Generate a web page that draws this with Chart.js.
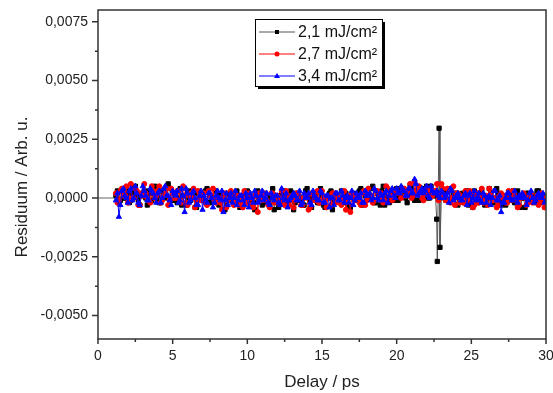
<!DOCTYPE html>
<html>
<head>
<meta charset="utf-8">
<script src="https://cdn.jsdelivr.net/npm/chart.js@4.4.1/dist/chart.umd.min.js"></script>
<style>
  body { margin: 0; background: #fff; }
</style>
</head>
<body>
<canvas id="residuals" width="553" height="393"></canvas>
<script>
// Residuen der Fits, Werte in Einheiten von 1e-4 Arb. u.
const delay = [
  1.2, 1.4, 1.6, 1.8, 2, 2.2, 2.4, 2.6, 2.8, 3,
  3.2, 3.4, 3.6, 3.8, 4, 4.2, 4.4, 4.6, 4.8, 5,
  5.2, 5.4, 5.6, 5.8, 6, 6.2, 6.4, 6.6, 6.8, 7,
  7.2, 7.4, 7.6, 7.8, 8, 8.2, 8.4, 8.6, 8.8, 9,
  9.2, 9.4, 9.6, 9.8, 10, 10.2, 10.4, 10.6, 10.8, 11,
  11.2, 11.4, 11.6, 11.8, 12, 12.2, 12.4, 12.6, 12.8, 13,
  13.2, 13.4, 13.6, 13.8, 14, 14.2, 14.4, 14.6, 14.8, 15,
  15.2, 15.4, 15.6, 15.8, 16, 16.2, 16.4, 16.6, 16.8, 17,
  17.2, 17.4, 17.6, 17.8, 18, 18.2, 18.4, 18.6, 18.8, 19,
  19.2, 19.4, 19.6, 19.8, 20, 20.2, 20.4, 20.6, 20.8, 21,
  21.2, 21.4, 21.6, 21.8, 22, 22.2, 22.4, 22.6, 22.8, 23,
  23.2, 23.4, 23.6, 23.8, 24, 24.2, 24.4, 24.6, 24.8, 25,
  25.2, 25.4, 25.6, 25.8, 26, 26.2, 26.4, 26.6, 26.8, 27,
  27.2, 27.4, 27.6, 27.8, 28, 28.2, 28.4, 28.6, 28.8, 29,
  29.2, 29.4, 29.6, 29.8, 30
];
// Zwischenpunkte
const delayMid = [
  1.3, 1.5, 1.7, 1.9, 2.1, 2.3, 2.5, 2.7, 2.9, 3.1,
  3.3, 3.5, 3.7, 3.9, 4.1, 4.3, 4.5, 4.7, 4.9, 5.1,
  5.3, 5.5, 5.7, 5.9, 6.1, 6.3, 6.5, 6.7, 6.9, 7.1,
  7.3, 7.5, 7.7, 7.9, 8.1, 8.3, 8.5, 8.7, 8.9, 9.1,
  9.3, 9.5, 9.7, 9.9, 10.1, 10.3, 10.5, 10.7, 10.9, 11.1,
  11.3, 11.5, 11.7, 11.9, 12.1, 12.3, 12.5, 12.7, 12.9, 13.1,
  13.3, 13.5, 13.7, 13.9, 14.1, 14.3, 14.5, 14.7, 14.9, 15.1,
  15.3, 15.5, 15.7, 15.9, 16.1, 16.3, 16.5, 16.7, 16.9, 17.1,
  17.3, 17.5, 17.7, 17.9, 18.1, 18.3, 18.5, 18.7, 18.9, 19.1,
  19.3, 19.5, 19.7, 19.9, 20.1, 20.3, 20.5, 20.7, 20.9, 21.1,
  21.3, 21.5, 21.7, 21.9, 22.1, 22.3, 22.5, 22.7, 22.9, 23.1,
  23.3, 23.5, 23.7, 23.9, 24.1, 24.3, 24.5, 24.7, 24.9, 25.1,
  25.3, 25.5, 25.7, 25.9, 26.1, 26.3, 26.5, 26.7, 26.9, 27.1,
  27.3, 27.5, 27.7, 27.9, 28.1, 28.3, 28.5, 28.7, 28.9, 29.1,
  29.3, 29.5, 29.7, 29.9
];

// 2,1 mJ/cm²
const res21 = [
  1, -2, 3, 0, 2, -1, 4, 1, -3, 2,
  0, 3, -1, 5, 1, -2, 2, 0, 4, -1,
  2, 0, -3, 1, 3, -1, 2, -4, 0, 1,
  3, -2, 1, 0, 2, -1, 1, -3, 0, 2,
  -2, 1, -4, 0, 3, -1, -2, 1, 0, -3,
  2, -1, 0, -5, 1, -2, 3, 0, -1, 2,
  -2, 1, 0, -3, 4, -1, 0, 2, -2, 1,
  -4, 0, 3, -1, 1, -2, 0, 2, -3, 1,
  0, -1, 4, -2, 1, 0, 5, -2, 1, 3,
  -3, 0, 2, -1, 4, 1, 3, 0, 2, 4,
  -1, 2, 3, 1, 5, 0, 2, 1, null, 2,
  0, 3, -1, 2, 1, -1, 2, 0, -3, 1,
  3, -2, 0, 1, -1, 4, -2, 0, 2, -3,
  1, 0, -1, 3, -2, 1, 0, -4, 2, -1,
  0, 3, -2, 1, -1
];
const res21Mid = [
  3, -1, 0, 4, -2, 2, 5, -1, 1, 3,
  -3, 2, 4, 0, -2, 3, 1, 6, -1, 2,
  -2, 4, 1, -3, 0, 3, -4, 2, 1, -1,
  4, -2, 0, 3, -3, 1, -5, 2, -1, 0,
  3, -4, 1, -2, 2, -1, -5, 3, 0, -2,
  1, -3, 4, -1, -4, 2, 0, -2, 3, -5,
  2, -1, -3, 3, 0, -4, 1, -2, 4, -3,
  0, 2, -5, 1, -1, 3, -2, 0, -4, 2,
  -1, 3, -3, 1, 0, 4, -2, 2, -3, 5,
  0, -2, 3, 1, -1, 4, 2, -2, 5, 1,
  3, -1, 4, 2, 0, 5, 1, null, null, 3,
  -1, 4, 0, 2, -3, 1, -2, 3, 0, -4,
  2, -1, 3, -3, 0, 1, -2, 4, -1, 0,
  -3, 2, 1, -2, 3, -4, 0, 2, -1, 1,
  -2, 3, 0, -1
];
// Ausreißer bei ca. 22,7 ps (nur 2,1 mJ/cm²)
const spikeDelay = [22.68, 22.72, 22.84, 22.9];
const spike21 = [-9, -27, 29.7, -21];

// 2,7 mJ/cm²
const res27 = [
  2, -1, 4, 1, -2, 6, 0, 3, -3, 1,
  2, -1, 5, 0, 3, -2, 1, 4, -1, 2,
  0, 3, -2, 1, -3, 2, 4, -1, 0, 2,
  -2, 3, 1, -1, 0, -2, 1, -4, 0, 2,
  -1, -3, 1, 3, -2, 0, -4, 1, 2, -1,
  0, -3, 2, -2, 1, -1, 0, 3, -3, 1,
  -1, 2, -3, 0, 1, -4, 2, 0, -2, 3,
  -1, 0, -3, 2, 1, -2, 0, -5, 1, 2,
  -1, 0, -3, 3, -1, 1, -2, 3, 0, 2,
  -1, 4, 1, 0, 3, 2, 4, 1, 3, 0,
  7, 2, 3, -1, 4, 2, 1, 3, -1, 6,
  1, 4, -2, 5, 2, -2, 0, 3, -1, 1,
  -3, 2, 0, -2, 1, 4, -1, 0, -3, 2,
  1, -2, 0, 3, -1, -3, 1, 0, -2, 2,
  -1, 1, -2, 0, -3
];
const res27Mid = [
  -2, 3, 1, 5, -1, 0, 4, -3, 2, 6,
  0, -2, 3, 1, 5, -1, 2, -3, 4, 0,
  3, -1, 5, -2, 1, 0, -4, 3, -1, 2,
  -3, 1, 4, -2, 0, -5, 2, -1, 3, -3,
  1, -2, -4, 0, 2, -3, 1, -6, 0, 2,
  -1, -4, 2, 0, -2, 3, -3, 1, -1, -4,
  2, 0, -3, 1, -5, 2, -1, 3, -2, 0,
  -4, 1, 2, -2, 0, -3, 3, -1, -6, 1,
  0, -2, 2, -3, 4, 1, -1, 3, 0, -2,
  5, 1, -1, 3, 2, 0, 4, 2, 6, 1,
  3, 5, 0, 2, 4, 1, 3, 6, 2, 4,
  -1, 3, 0, -3, 2, 1, -2, 0, 3, -4,
  1, -2, 4, 0, -3, 2, -1, -4, 1, 0,
  -2, 3, -1, 1, -4, 0, 2, -3, 1, -2,
  0, -3, 2, -4
];

// 3,4 mJ/cm²
const res34 = [
  -1, -8, 3, 1, -2, 4, 0, 2, -3, 5,
  1, -1, 3, 0, 2, -2, 4, 1, -1, 3,
  1, -2, 4, -6, 2, -1, 3, -3, 1, -5,
  -1, 2, 0, -2, 3, -1, -6, 2, 0, -2,
  3, -1, 1, -3, 0, 2, -2, 1, -1, 3,
  0, -2, 2, -1, 1, -3, 0, 2, -1, 1,
  1, -1, -3, 2, 0, -2, 3, 0, -1, 2,
  -2, 1, 0, -3, 2, -1, 1, 0, -2, 3,
  -1, 0, 2, -2, 1, 2, 0, 3, -1, 1,
  2, -2, 3, 1, 4, 2, 3, 1, 4, 2,
  8, 1, 3, 2, 5, 0, 3, 2, 1, 3,
  0, 2, 4, -1, 1, 0, -1, 2, 1, -2,
  3, 0, -1, 2, -2, 1, 0, 3, -1, -6,
  -2, 2, 0, -1, 0, 1, 2, 0, -1, 3,
  -2, 1, 0, 2, -1
];
const res34Mid = [
  2, -3, 4, 0, 3, -1, 5, -2, 1, 3,
  -1, 4, 2, -2, 3, 0, 5, 1, -3, 2,
  3, -1, 1, 4, -2, 2, 0, -3, 3, 1,
  -2, 2, -4, 1, 0, 3, -1, -3, 2, 0,
  -3, 1, -1, 2, -4, 0, 3, -2, 1, -1,
  2, -3, 0, 1, -2, 4, -1, -4, 0, 2,
  -1, 3, -2, 0, 2, -3, 1, -1, 3, -2,
  1, -4, 0, 2, -1, 3, -2, 1, 0, -3,
  2, 0, -2, 3, 1, -1, 4, 0, 2, -1,
  3, 1, 4, 0, 2, 5, 3, 1, 4, 2,
  6, 2, 4, 3, 1, 5, 2, 3, 0, 2,
  1, -2, 3, 0, 2, -1, 1, -3, 2, 0,
  -1, 2, -2, 1, 0, -3, 3, -1, 1, -2,
  0, 2, -1, 3, -2, 0, 1, -3, 2, 0,
  -1, 2, 0, -2
];

const labels = ['2,1 mJ/cm²', '2,7 mJ/cm²', '3,4 mJ/cm²'];
const yMajor = [-0.005, -0.0025, 0, 0.0025, 0.005, 0.0075];
const yMinor = [-0.00375, -0.00125, 0.00125, 0.00375, 0.00625];
const xMajor = [0, 5, 10, 15, 20, 25, 30];
const xMinor = [2.5, 7.5, 12.5, 17.5, 22.5, 27.5];
const UNIT = 1e-4;

function toPoints(xs, ys) {
  return xs.map((d, i) => ({ x: d, y: ys[i] }))
    .filter(p => p.y !== null && p.y !== undefined)
    .map(p => ({ x: p.x, y: p.y * UNIT }));
}
function series(...parts) {
  return [].concat(...parts).sort((a, b) => a.x - b.x);
}

const pts21 = series(toPoints(delay, res21), toPoints(delayMid, res21Mid), toPoints(spikeDelay, spike21));
const pts27 = series(toPoints(delay, res27), toPoints(delayMid, res27Mid));
const pts34 = series(toPoints(delay, res34), toPoints(delayMid, res34Mid));

const fmt = v => v.toFixed(4).replace('.', ',');
const FONT = '"Liberation Sans", Arial, sans-serif';

// Rahmen, Ticks, Nulllinie, y-Titel und Legende
const framePlugin = {
  id: 'frame',
  beforeDatasetsDraw(chart) {
    const { ctx, chartArea: a, scales: { y } } = chart;
    const y0 = y.getPixelForValue(0);
    ctx.save();
    ctx.strokeStyle = '#666';
    ctx.lineWidth = 1;
    ctx.beginPath();
    ctx.moveTo(a.left, y0);
    ctx.lineTo(a.right, y0);
    ctx.stroke();
    ctx.restore();
  },
  afterDraw(chart) {
    const { ctx, chartArea: a, scales: { x, y } } = chart;
    ctx.save();
    ctx.strokeStyle = '#333';
    ctx.lineWidth = 1.5;
    ctx.strokeRect(a.left, a.top, a.right - a.left, a.bottom - a.top);
    ctx.beginPath();
    xMajor.forEach(v => { const px = x.getPixelForValue(v); ctx.moveTo(px, a.bottom); ctx.lineTo(px, a.bottom + 5); });
    xMinor.forEach(v => { const px = x.getPixelForValue(v); ctx.moveTo(px, a.bottom); ctx.lineTo(px, a.bottom + 3); });
    yMajor.forEach(v => { const py = y.getPixelForValue(v); ctx.moveTo(a.left - 6, py); ctx.lineTo(a.left, py); });
    yMinor.forEach(v => { const py = y.getPixelForValue(v); ctx.moveTo(a.left - 3, py); ctx.lineTo(a.left, py); });
    ctx.stroke();

    // y-Achsentitel
    ctx.save();
    ctx.translate(22, 187);
    ctx.rotate(-Math.PI / 2);
    ctx.font = '17px ' + FONT;
    ctx.fillStyle = '#222';
    ctx.textAlign = 'center';
    ctx.textBaseline = 'middle';
    ctx.fillText('Residuum / Arb. u.', 0, 0);
    ctx.restore();

    // Legende mit Schatten
    const bx = 255, by = 19, bw = 127, bh = 67;
    ctx.fillStyle = '#000';
    ctx.fillRect(bx + 3, by + 3, bw, bh);
    ctx.fillStyle = '#fff';
    ctx.fillRect(bx, by, bw, bh);
    ctx.strokeStyle = '#000';
    ctx.lineWidth = 1;
    ctx.strokeRect(bx + 0.5, by + 0.5, bw, bh);
    ctx.font = '16px ' + FONT;
    ctx.textAlign = 'left';
    ctx.textBaseline = 'middle';
    chart.data.datasets.forEach((ds, i) => {
      const ly = by + 13 + i * 22;
      ctx.strokeStyle = ds.borderColor;
      ctx.lineWidth = 1;
      ctx.beginPath();
      ctx.moveTo(bx + 4, ly);
      ctx.lineTo(bx + 40, ly);
      ctx.stroke();
      const mx = bx + 22;
      ctx.fillStyle = ds.pointBackgroundColor;
      ctx.beginPath();
      if (ds.pointStyle === 'rect') {
        ctx.rect(mx - 2, ly - 2, 4, 4);
      } else if (ds.pointStyle === 'triangle') {
        ctx.moveTo(mx, ly - 3);
        ctx.lineTo(mx + 3, ly + 2);
        ctx.lineTo(mx - 3, ly + 2);
        ctx.closePath();
      } else {
        ctx.arc(mx, ly, 2.5, 0, Math.PI * 2);
      }
      ctx.fill();
      ctx.fillStyle = '#111';
      ctx.fillText(ds.label, bx + 43, ly + 1);
    });
    ctx.restore();
  }
};

new Chart(document.getElementById('residuals'), {
  type: 'line',
  data: {
    datasets: [
      {
        label: labels[0],
        data: pts21,
        borderColor: '#555',
        pointBackgroundColor: '#000',
        pointBorderColor: '#000',
        pointStyle: 'rect',
        pointRadius: 3,
        borderWidth: 1,
        order: 3
      },
      {
        label: labels[1],
        data: pts27,
        borderColor: '#ff0000',
        pointBackgroundColor: '#ff0000',
        pointBorderColor: '#ff0000',
        pointStyle: 'circle',
        pointRadius: 2.5,
        borderWidth: 1,
        order: 2
      },
      {
        label: labels[2],
        data: pts34,
        borderColor: '#0000ff',
        pointBackgroundColor: '#0000ff',
        pointBorderColor: '#0000ff',
        pointStyle: 'triangle',
        pointRadius: 3,
        borderWidth: 1,
        order: 1
      }
    ]
  },
  options: {
    responsive: false,
    animation: false,
    layout: { padding: { left: 0, right: 7, top: 10, bottom: 0 } },
    plugins: {
      legend: { display: false },
      tooltip: { enabled: false }
    },
    scales: {
      x: {
        type: 'linear',
        min: 0,
        max: 30,
        grid: { display: false, drawTicks: false },
        border: { display: false },
        afterBuildTicks: s => { s.ticks = xMajor.map(v => ({ value: v })); },
        afterFit: s => { s.height = 54; s.paddingLeft = 0; s.paddingRight = 0; },
        ticks: {
          padding: 9,
          color: '#222',
          font: { family: FONT, size: 14 },
          callback: v => String(v)
        },
        title: {
          display: true,
          text: 'Delay / ps',
          color: '#222',
          padding: { top: 0, bottom: 0 },
          font: { family: FONT, size: 17 }
        }
      },
      y: {
        type: 'linear',
        min: -0.006,
        max: 0.008,
        grid: { display: false, drawTicks: false },
        border: { display: false },
        afterBuildTicks: s => { s.ticks = yMajor.map(v => ({ value: v })); },
        afterFit: s => { s.width = 98; s.paddingTop = 0; s.paddingBottom = 0; },
        ticks: {
          padding: 10,
          color: '#222',
          font: { family: FONT, size: 14 },
          callback: v => fmt(v)
        }
      }
    }
  },
  plugins: [framePlugin]
});
</script>
</body>
</html>
